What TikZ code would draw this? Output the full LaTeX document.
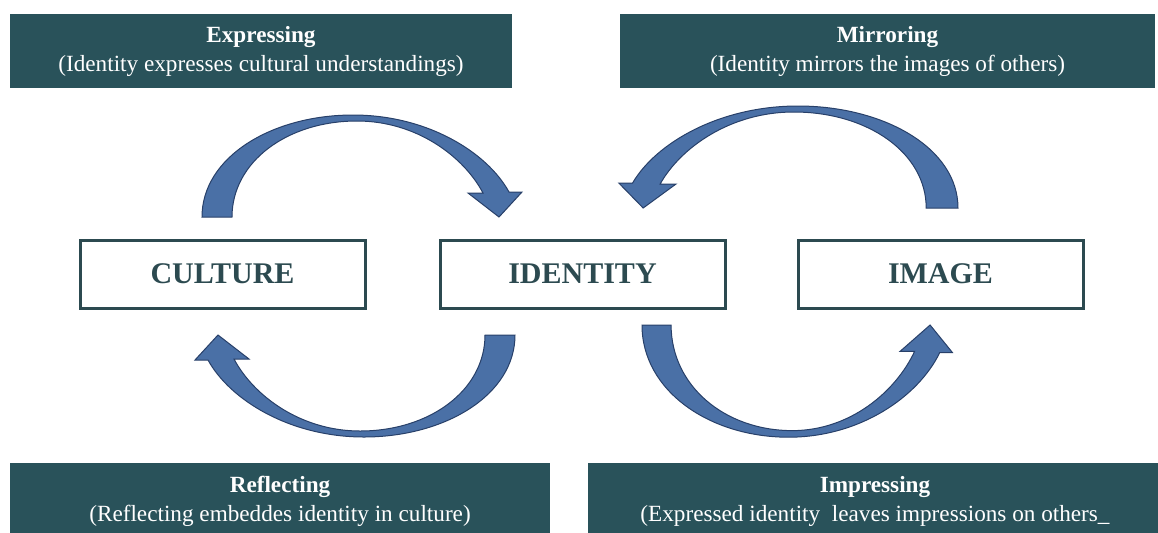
\documentclass[tikz,border=0pt]{standalone}
\usepackage{fontspec}
\setmainfont{Liberation Serif}
\usetikzlibrary{positioning}
\definecolor{bannerteal}{RGB}{41,82,90}
\definecolor{boxteal}{RGB}{44,74,80}
\definecolor{arrowblue}{RGB}{74,112,166}
\definecolor{arrowedge}{RGB}{40,64,105}
\tikzset{
    banner/.style={
        fill=bannerteal,
        text=white,
        align=center,
        inner sep=0pt,
        font=\fontsize{11.6}{14.5}\selectfont},
    conceptbox/.style={
        draw=boxteal,
        line width=1.5pt,
        text=boxteal,
        minimum width=142.5pt,
        minimum height=34pt,
        font=\fontsize{15}{18}\selectfont\bfseries},
    bent arrow/.pic={
        \filldraw[fill=arrowblue, draw=arrowedge, line width=0.5pt]
            (0,0) .. controls (0,-60) and (70,-102) .. (151,-102)
            .. controls (225,-102) and (285,-65) .. (307,-25)
            -- (320,-25) -- (297,0) -- (266,-24) -- (281,-24)
            .. controls (262,-60) and (215,-96) .. (155,-96)
            .. controls (85,-96) and (30,-55) .. (30,0) -- cycle;
    }}

\begin{document}
\begin{tikzpicture}[x=0.5pt, y=-0.5pt]
    \path[use as bounding box, clip] (0,0) rectangle (1158,532);

    % banners
    \node[banner, minimum width=251pt, minimum height=37pt] (expressing) at (261,51)
        {\textbf{Expressing}\\(Identity expresses cultural understandings)};
    \node[banner, minimum width=267.5pt, minimum height=37pt] (mirroring) at (887.5,51)
        {\textbf{Mirroring}\\(Identity mirrors the images of others)};
    \node[banner, minimum width=270pt, minimum height=38.5pt] (reflecting) at (280,501.5)
        {\textbf{Reflecting}\\(Reflecting embeddes identity in culture)};
    \node[banner, minimum width=287pt, minimum height=38.5pt] (impressing) at (875,501.5)
        {\textbf{Impressing}\\(Expressed identity\ \ leaves impressions on others\_};

    % concepts
    \node[conceptbox] (identity) at (582.5,274) {IDENTITY};
    \node[conceptbox, left=36pt of identity] (culture) {CULTURE};
    \node[conceptbox, right=35pt of identity] (image) {IMAGE};

    % arrows
    \pic at (202,217) {bent arrow};
    \pic[xscale=-1.06] at (958,208) {bent arrow};
    \pic[rotate=180] at (515,335) {bent arrow};
    \pic[xscale=0.97, yscale=-1.1] at (642,325) {bent arrow};
\end{tikzpicture}
\end{document}
